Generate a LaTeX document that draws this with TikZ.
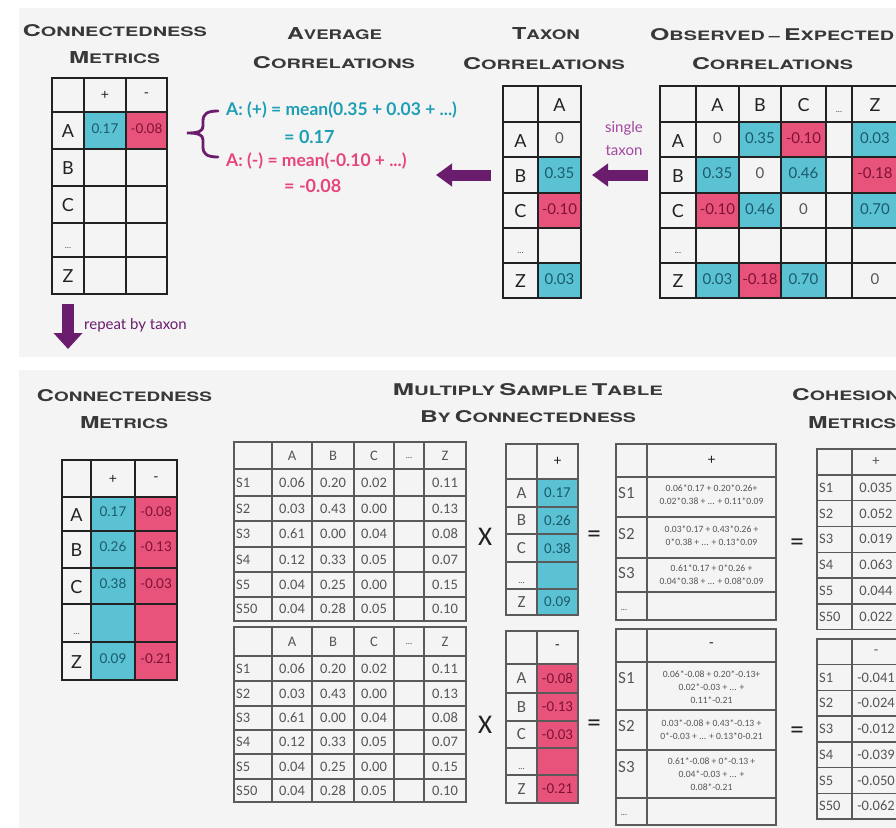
\documentclass[tikz,border=0pt]{standalone}
\usepackage{fontspec}
\usepackage{graphicx}
\setmainfont{Lato}
\newfontfamily\calfont{Carlito}
\newfontfamily\hvfont{TeX Gyre Heros}
\usetikzlibrary{arrows.meta}
\definecolor{panel}{HTML}{F4F4F4}
\definecolor{cblue}{HTML}{5BC2D4}
\definecolor{cpink}{HTML}{E8537C}
\definecolor{tblue}{HTML}{1B5A6A}
\definecolor{tpink}{HTML}{7E1235}
\definecolor{teal}{HTML}{1E9EB5}
\definecolor{rose}{HTML}{E6457A}
\definecolor{purp}{HTML}{6A1D6C}
\definecolor{lpurp}{HTML}{A3479F}
\definecolor{ink}{HTML}{222222}
\definecolor{ttlc}{HTML}{383838}
\definecolor{gline}{HTML}{5A5A5A}
\definecolor{gtext}{HTML}{555555}
\newcommand\fsc[2]{{\fontsize{17}{17}\selectfont #1}{\fontsize{13.6}{13.6}\selectfont #2}}
\newcommand\ttl[3]{\resizebox{#1}{#2}{\hvfont\bfseries #3}}
\newcommand\gridlines[7]{%
  \foreach \gx in {#2} {\draw[#1] (\gx,#6) -- (\gx,#7);}
  \foreach \gy in {#3} {\draw[#1] (#4,\gy) -- (#5,\gy);}
}
\begin{document}
\begin{tikzpicture}[x=1pt,y=-1pt,
  tline/.style={line width=1.6pt,draw=ink,line cap=rect},
  sline/.style={line width=1.4pt,draw=gline,line cap=rect},
  title/.style={inner sep=0pt,text=ttlc},
  lbl/.style={inner sep=0pt,text=ink,font=\fontsize{18}{18}\selectfont},
  hdr/.style={inner sep=0pt,text=ink,font=\fontsize{14}{14}\selectfont},
  dots/.style={inner sep=0pt,text=gtext,font=\fontsize{9}{9}\selectfont},
  num/.style={inner sep=0pt,font=\fontsize{13.5}{13.5}\selectfont},
  bignum/.style={inner sep=0pt,font=\fontsize{15}{15}\selectfont},
  stxt/.style={inner sep=0pt,text=gtext,font=\calfont\fontsize{14.5}{14.5}\selectfont},
  vlbl/.style={inner sep=0pt,text=gtext,font=\calfont\fontsize{17}{17}\selectfont},
  vnum/.style={inner sep=0pt,font=\calfont\fontsize{15}{15}\selectfont},
  ftxt/.style={inner sep=0pt,text=gtext,align=center,font=\calfont\fontsize{9.6}{13}\selectfont},
  op/.style={inner sep=0pt,text=ink,font=\calfont\fontsize{27}{27}\selectfont},
  barrow/.style={draw=purp,line width=11pt,-{Triangle[length=16pt,width=22pt]}},
  eqn/.style={anchor=west,inner sep=0pt,font=\bfseries\fontsize{17.5}{17.5}\selectfont},
  eqr/.style={anchor=west,inner sep=0pt,font=\bfseries\fontsize{18}{18}\selectfont},
]
\useasboundingbox (0,0) rectangle (896,827);
\clip (0,0) rectangle (896,827);
\fill[white] (0,0) rectangle (896,827);
\fill[panel] (19,8) rectangle (900,357);
\fill[panel] (19,370) rectangle (900,830);

% ---------- titles ----------
\node[title] (t1a) at (115,31) {\ttl{184pt}{12pt}{\fsc{C}{ONNECTEDNESS}}};
\node[title] (t1b) at (114.5,58) {\ttl{91pt}{12pt}{\fsc{M}{ETRICS}}};
\node[title] (t2a) at (334.5,34) {\ttl{95pt}{12pt}{\fsc{A}{VERAGE}}};
\node[title] (t2b) at (334,63) {\ttl{162pt}{12pt}{\fsc{C}{ORRELATIONS}}};
\node[title] (t3a) at (546,34) {\ttl{68pt}{12pt}{\fsc{T}{AXON}}};
\node[title] (t3b) at (544,63.5) {\ttl{162pt}{12pt}{\fsc{C}{ORRELATIONS}}};
\node[title,anchor=west] (t4a) at (650,34.5) {\ttl{244pt}{12pt}{\fsc{O}{BSERVED} \fsc{}{–} \fsc{E}{XPECTED}}};
\node[title] (t4b) at (772.5,63.5) {\ttl{161pt}{12pt}{\fsc{C}{ORRELATIONS}}};
\node[title] (b1a) at (124.5,395.5) {\ttl{175pt}{12pt}{\fsc{C}{ONNECTEDNESS}}};
\node[title] (b1b) at (124,423) {\ttl{88pt}{12pt}{\fsc{M}{ETRICS}}};
\node[title] (b2a) at (528,390) {\ttl{270pt}{12pt}{\fsc{M}{ULTIPLY} \fsc{S}{AMPLE} \fsc{T}{ABLE}}};
\node[title] (b2b) at (528,417) {\ttl{216pt}{12pt}{\fsc{B}{Y} \fsc{C}{ONNECTEDNESS}}};
\node[title,anchor=west] (b3a) at (792,395) {\ttl{108pt}{12pt}{\fsc{C}{OHESION}}};
\node[title,anchor=west] (b3b) at (808,422.5) {\ttl{88pt}{12pt}{\fsc{M}{ETRICS}}};

% ---------- T1: connectedness (top) ----------
\fill[cblue] (84,112) rectangle (126,149);
\fill[cpink] (126,112) rectangle (167,149);
\gridlines{tline}{52,84,126,167}{78,112,149,186,223,257,294}{52}{167}{78}{294}
\node[hdr] (t1hp) at (105,95) {+};
\node[hdr] (t1hm) at (146.5,95) {-};
\foreach \l/\y in {A/131,B/168,C/205,Z/276} \node[lbl] (t1r\l) at (68,\y) {\l};
\node[dots] (t1rd) at (68,248) {...};
\node[num,text=tblue] (t1ap) at (105,129) {0.17};
\node[num,text=tpink] (t1am) at (146.5,129) {-0.08};

% ---------- brace and averages ----------
\draw[purp,line width=2.8pt,line cap=round] (218,111) .. controls (207,111) and (203,114) .. (203,121) -- (203,126) .. controls (203,131) and (199,133) .. (187,133) .. controls (199,133) and (203,135) .. (203,140) -- (203,147) .. controls (203,154) and (207,157) .. (218,157);
\node[eqn,text=teal] (f1) at (226,110) {A: (+) = mean(0.35 + 0.03 + ...)};
\node[eqr,text=teal] (f2) at (284,137) {= 0.17};
\node[eqn,text=rose] (f3) at (226,161) {A: (-) = mean(-0.10 + ...)};
\node[eqr,text=rose] (f4) at (284,185.5) {= -0.08};

% ---------- T2: taxon correlations ----------
\fill[cblue] (538,157) rectangle (581,193);
\fill[cpink] (538,193) rectangle (581,228);
\fill[cblue] (538,263) rectangle (581,298);
\gridlines{tline}{503,538,581}{86,122,157,193,228,263,298}{503}{581}{86}{298}
\node[lbl] (t2h) at (559.5,105) {A};
\foreach \l/\y in {A/141,B/176,C/211,Z/281} \node[lbl] (t2r\l) at (520.5,\y) {\l};
\node[dots] (t2rd) at (520.5,253) {...};
\node[bignum,text=gtext] (t2vA) at (559.5,138) {0};
\node[bignum,text=tblue] (t2vB) at (559.5,173) {0.35};
\node[bignum,text=tpink] (t2vC) at (559.5,209) {-0.10};
\node[bignum,text=tblue] (t2vZ) at (559.5,279) {0.03};

% ---------- T3: observed - expected ----------
\foreach \xa/\xb/\ya/\yb/\c in {739/781/122/157/cblue, 781/826/122/157/cpink, 852/898/122/157/cblue, 696/739/157/193/cblue, 781/826/157/193/cblue, 852/898/157/193/cpink, 696/739/193/228/cpink, 739/781/193/228/cblue, 852/898/193/228/cblue, 696/739/263/298/cblue, 739/781/263/298/cpink, 781/826/263/298/cblue}
  \fill[fill=\c] (\xa,\ya) rectangle (\xb,\yb);
\gridlines{tline}{660,696,739,781,826,852,898}{86,122,157,193,228,263,298}{660}{898}{86}{298}
\foreach \l/\x in {A/717.5,B/760,C/803.5,Z/875} \node[lbl] (t3h\l) at (\x,105) {\l};
\node[dots] (t3hd) at (839,112) {...};
\foreach \l/\y in {A/141,B/176,C/211,Z/281} \node[lbl] (t3r\l) at (678,\y) {\l};
\node[dots] (t3rd) at (678,253) {...};
\foreach \x/\y/\v/\c [count=\k] in {717.5/138/0/gtext, 760/138/0.35/tblue, 803.5/138/-0.10/tpink, 875/138/0.03/tblue, 717.5/173/0.35/tblue, 760/173/0/gtext, 803.5/173/0.46/tblue, 875/173/-0.18/tpink, 717.5/209/-0.10/tpink, 760/209/0.46/tblue, 803.5/209/0/gtext, 875/209/0.70/tblue, 717.5/279/0.03/tblue, 760/279/-0.18/tpink, 803.5/279/0.70/tblue, 875/279/0/gtext}
  \node[bignum,text=\c] (t3v\k) at (\x,\y) {\v};

% ---------- arrows ----------
\coordinate (a1s) at (491,175); \coordinate (a1e) at (436,175);
\draw[barrow] (a1s) -- (a1e);
\coordinate (a2s) at (648,175); \coordinate (a2e) at (592,175);
\draw[barrow] (a2s) -- (a2e);
\node[text=lpurp,align=center,inner sep=0pt,font=\fontsize{15}{23}\selectfont] (st) at (624,139) {single\\taxon};
\coordinate (a3s) at (68,304); \coordinate (a3e) at (68,349);
\draw[barrow,line width=12pt,-{Triangle[length=16pt,width=28pt]}] (a3s) -- (a3e);
\node[anchor=west,text=purp,inner sep=0pt,font=\fontsize{15}{15}\selectfont] (rbt) at (84,325) {repeat by taxon};

% ---------- T4: connectedness (bottom) ----------
\fill[cblue] (91,497) rectangle (135,680);
\fill[cpink] (135,497) rectangle (177,680);
\gridlines{tline}{62,91,135,177}{460,497,531,568,604,642,680}{62}{177}{460}{680}
\node[hdr] (t4hp) at (113,479) {+};
\node[hdr] (t4hm) at (156,479) {-};
\foreach \l/\y in {A/515,B/550,C/587,Z/662} \node[lbl] (t4r\l) at (76.5,\y) {\l};
\node[dots] (t4rd) at (76.5,634) {...};
\foreach \y/\p/\m [count=\k] in {512/0.17/-0.08, 547/0.26/-0.13, 584/0.38/-0.03, 659/0.09/-0.21} {
  \node[num,text=tblue] (t4p\k) at (113,\y) {\p};
  \node[num,text=tpink] (t4m\k) at (156,\y) {\m};
}

% ---------- sample tables ----------
\gridlines{sline}{234,272,312,354,394,424,466}{442,469,496,521,547,572,597,621}{234}{466}{442}{621}
\gridlines{sline}{234,272,312,354,394,424,466}{627,656,681,706,730,754,779,802}{234}{466}{627}{802}
\foreach \l/\x in {A/292,B/333,C/374,Z/445} {
  \node[stxt] (s1h\l) at (\x,456) {\l};
  \node[stxt] (s2h\l) at (\x,642) {\l};
}
\node[dots] (s1hd) at (409,458) {...};
\node[dots] (s2hd) at (409,644) {...};
\foreach \ya/\yb/\l/\a/\b/\c/\z [count=\k] in {482.5/668.5/S1/0.06/0.20/0.02/0.11, 508.5/693.5/S2/0.03/0.43/0.00/0.13, 534/718/S3/0.61/0.00/0.04/0.08, 559.5/742/S4/0.12/0.33/0.05/0.07, 584.5/766.5/S5/0.04/0.25/0.00/0.15, 609/790.5/S50/0.04/0.28/0.05/0.10} {
  \node[stxt,anchor=west] (s1l\k) at (236,\ya) {\l};
  \node[stxt] (s1a\k) at (292,\ya) {\a};
  \node[stxt] (s1b\k) at (333,\ya) {\b};
  \node[stxt] (s1c\k) at (374,\ya) {\c};
  \node[stxt] (s1z\k) at (445,\ya) {\z};
  \node[stxt,anchor=west] (s2l\k) at (236,\yb) {\l};
  \node[stxt] (s2a\k) at (292,\yb) {\a};
  \node[stxt] (s2b\k) at (333,\yb) {\b};
  \node[stxt] (s2c\k) at (374,\yb) {\c};
  \node[stxt] (s2z\k) at (445,\yb) {\z};
}
\node[op] (x1) at (485,537) {X};
\node[op] (x2) at (485,725) {X};

% ---------- vector tables ----------
\fill[cblue] (537,479) rectangle (578,615);
\gridlines{sline}{506,537,578}{444,479,507,534,562,589,615}{506}{578}{444}{615}
\node[vnum,text=ink] (v1h) at (557.5,461.5) {+};
\foreach \l/\y/\v in {A/493/0.17,B/520.5/0.26,C/548/0.38,Z/602/0.09} {
  \node[vlbl] (v1l\l) at (521.5,\y) {\l};
  \node[vnum,text=tblue] (v1v\l) at (557.5,\y) {\v};
}
\node[dots] (v1d) at (521.5,583) {...};
\fill[cpink] (537,664) rectangle (578,803);
\gridlines{sline}{506,537,578}{631,664,693,721,748,775,803}{506}{578}{631}{803}
\node[vnum,text=ink] (v2h) at (557.5,647.5) {-};
\foreach \l/\y/\v in {A/678.5/-0.08,B/707/-0.13,C/734.5/-0.03,Z/789/-0.21} {
  \node[vlbl] (v2l\l) at (521.5,\y) {\l};
  \node[vnum,text=tpink] (v2v\l) at (557.5,\y) {\v};
}
\node[dots] (v2d) at (521.5,769) {...};
\node[op] (e1) at (594,537) {=};
\node[op] (e2) at (594,726) {=};
\node[op] (e3) at (797,545) {=};
\node[op] (e4) at (797,733) {=};

% ---------- formula tables ----------
\gridlines{sline}{616,647,776}{444,477,517,558,592,620}{616}{776}{444}{620}
\node[vnum,text=ink] (p1h) at (711.5,460.5) {+};
\node[vlbl,anchor=west] (p1l1) at (618,493) {S1};
\node[vlbl,anchor=west] (p1l2) at (618,534) {S2};
\node[vlbl,anchor=west] (p1l3) at (618,573) {S3};
\node[dots] (p1l4) at (624,610) {...};
\node[ftxt] (p1f1) at (711.5,495) {0.06*0.17 + 0.20*0.26+\\0.02*0.38 + ... + 0.11*0.09};
\node[ftxt] (p1f2) at (711.5,536) {0.03*0.17 + 0.43*0.26 +\\0*0.38 + ... + 0.13*0.09};
\node[ftxt] (p1f3) at (711.5,575) {0.61*0.17 + 0*0.26 +\\0.04*0.38 + ... + 0.08*0.09};
\gridlines{sline}{616,647,776}{629,662,710,750,798,825}{616}{776}{629}{825}
\node[vnum,text=ink] (p2h) at (711.5,645.5) {-};
\node[vlbl,anchor=west] (p2l1) at (618,678) {S1};
\node[vlbl,anchor=west] (p2l2) at (618,726) {S2};
\node[vlbl,anchor=west] (p2l3) at (618,767) {S3};
\node[dots] (p2l4) at (624,815) {...};
\node[ftxt] (p2f1) at (711.5,687) {0.06*-0.08 + 0.20*-0.13+\\0.02*-0.03 + ... +\\0.11*-0.21};
\node[ftxt] (p2f2) at (711.5,730) {0.03*-0.08 + 0.43*-0.13 +\\0*-0.03 + ... + 0.13*0-0.21};
\node[ftxt] (p2f3) at (711.5,774) {0.61*-0.08 + 0*-0.13 +\\0.04*-0.03 + ... +\\0.08*-0.21};

% ---------- cohesion tables ----------
\gridlines{sline}{817,852,900}{449,474.8,500.6,526.4,552.2,578,603.8,629.6}{817}{900}{449}{629.6}
\gridlines{sline}{817,852,900}{639,664.7,690.4,716.1,741.9,767.6,793.3,819}{817}{900}{639}{819}
\node[stxt] (c1h) at (876,462) {+};
\node[stxt] (c2h) at (876,652) {-};
\foreach \ya/\yb/\l/\p/\m [count=\k] in {487.7/677.6/S1/0.035/-0.041, 513.5/703.3/S2/0.052/-0.024, 539.3/729/S3/0.019/-0.012, 565.1/754.7/S4/0.063/-0.039, 590.9/780.4/S5/0.044/-0.050, 616.7/806.1/S50/0.022/-0.062} {
  \node[stxt,anchor=west] (c1l\k) at (819,\ya) {\l};
  \node[stxt] (c1v\k) at (876,\ya) {\p};
  \node[stxt,anchor=west] (c2l\k) at (819,\yb) {\l};
  \node[stxt] (c2v\k) at (876,\yb) {\m};
}
\end{tikzpicture}
\end{document}
